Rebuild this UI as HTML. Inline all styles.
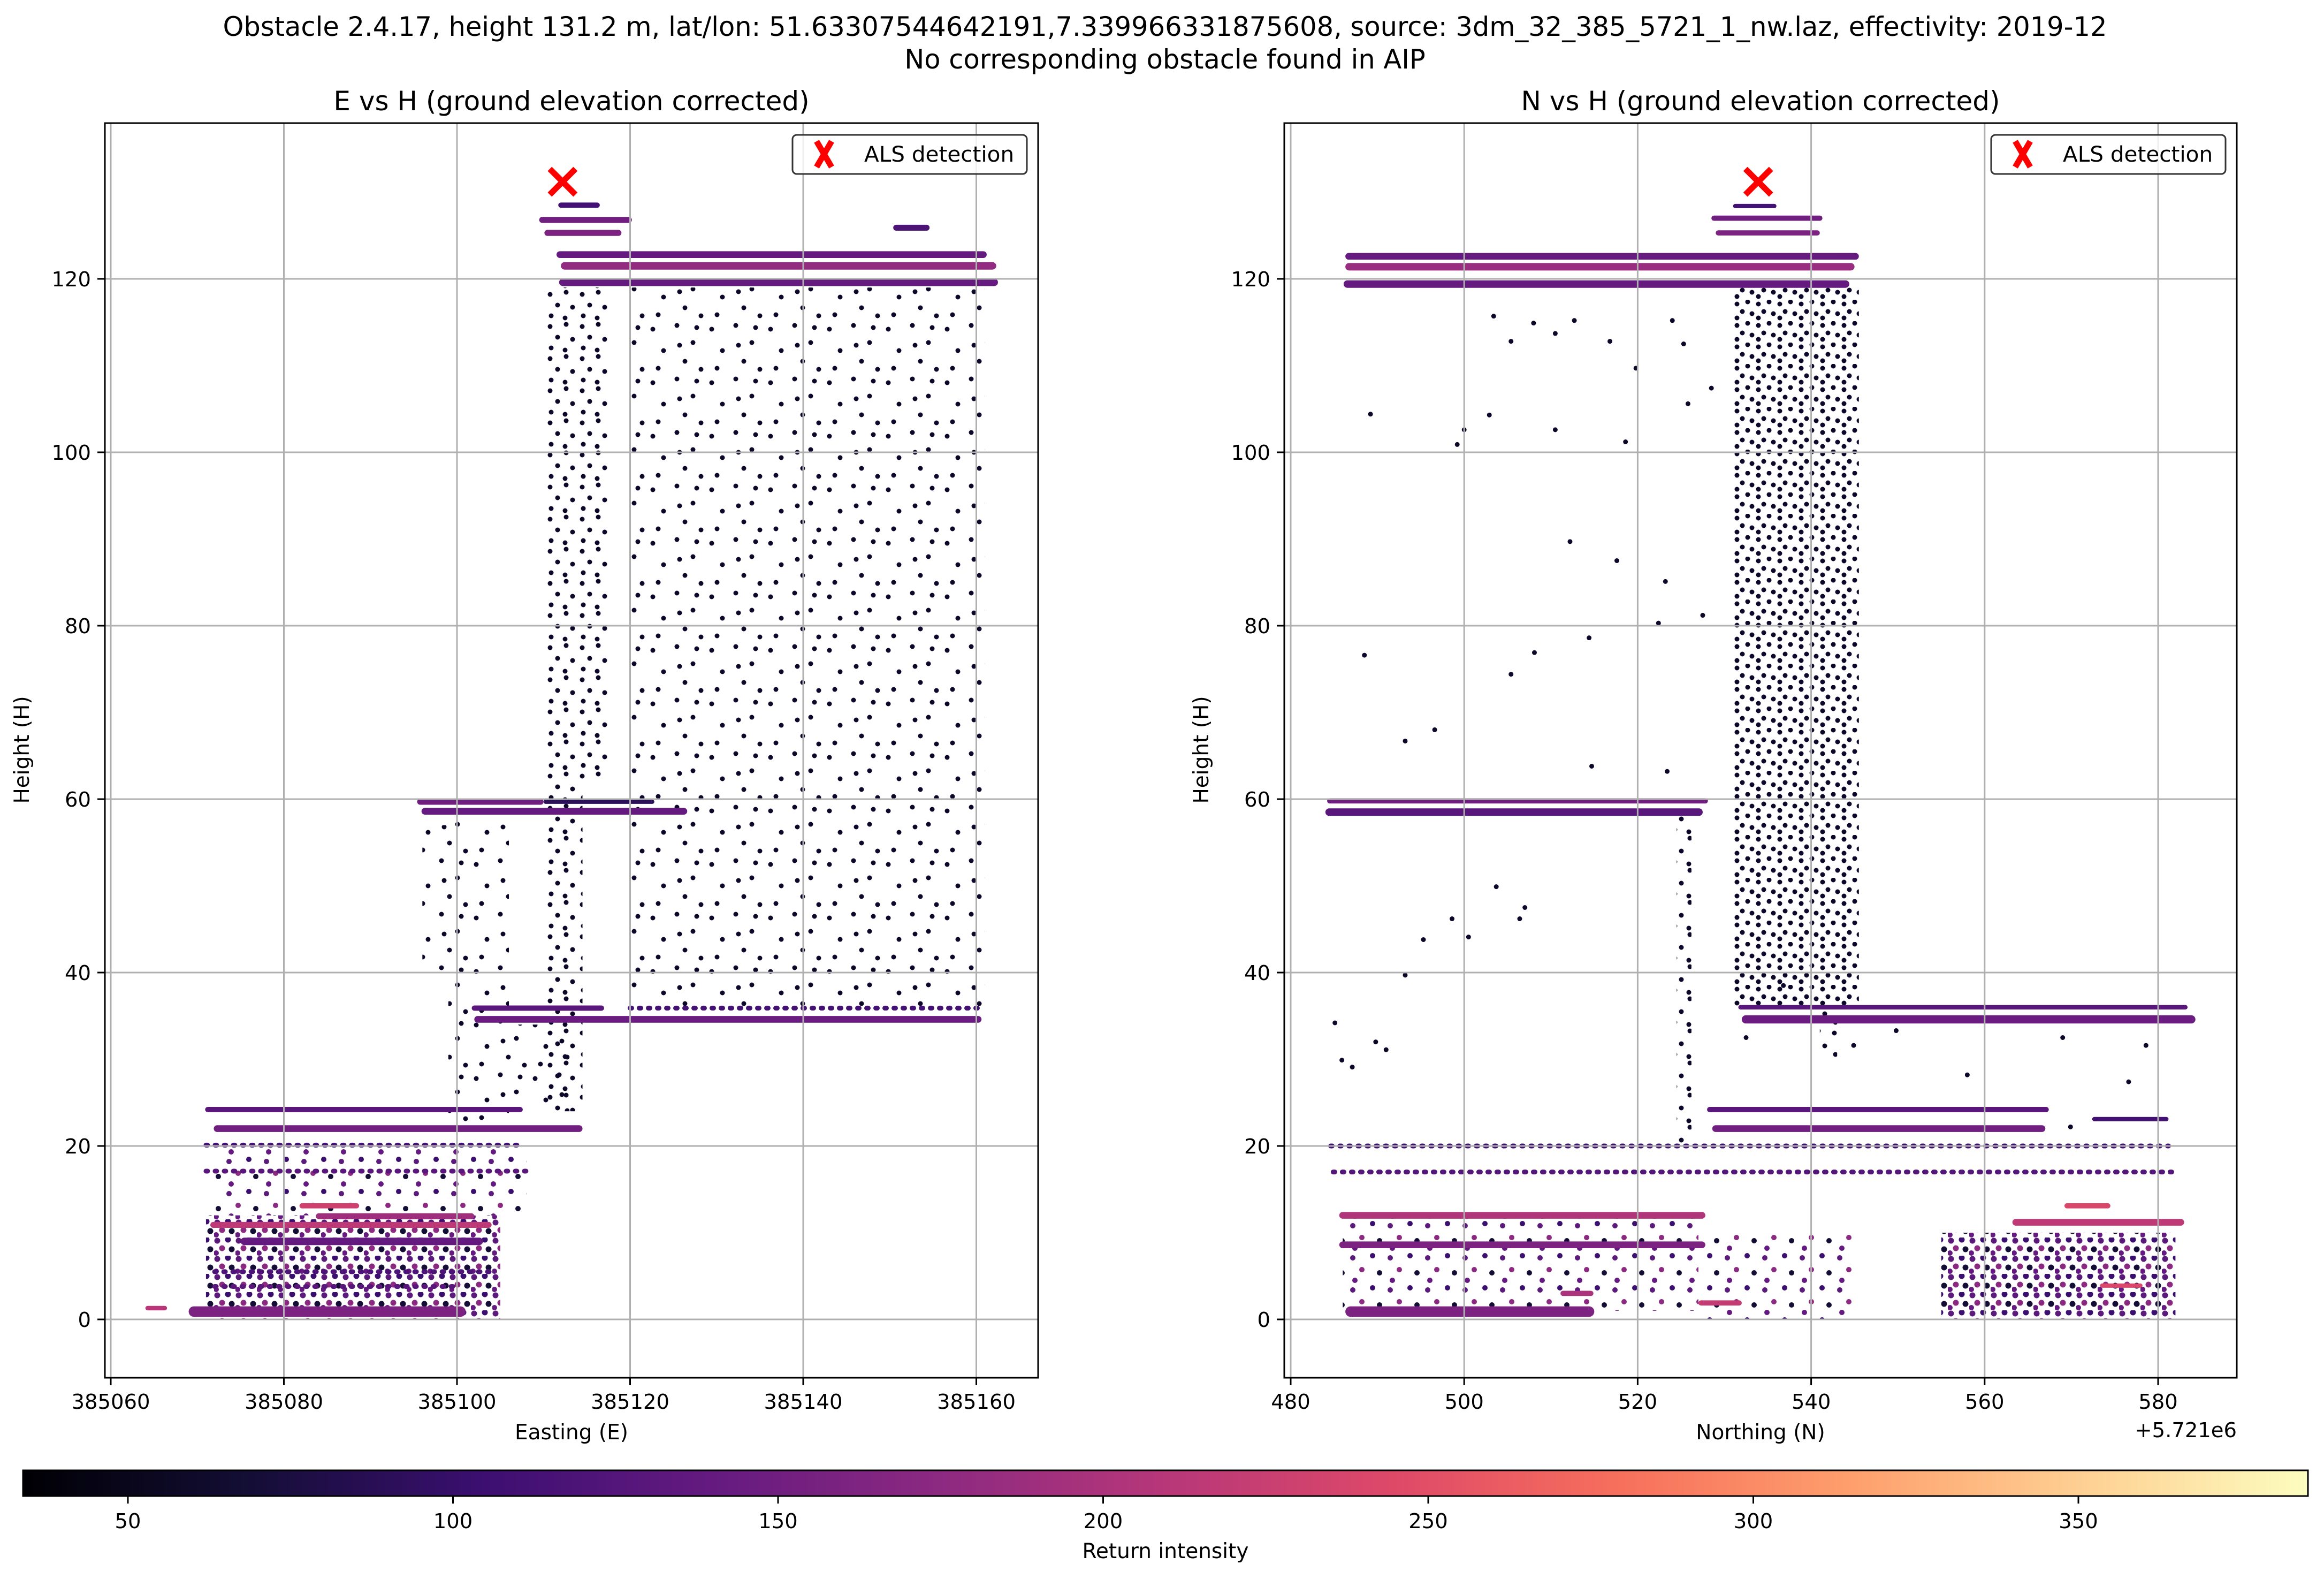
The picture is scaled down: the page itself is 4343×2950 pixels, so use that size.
<!DOCTYPE html>
<html><head><meta charset="utf-8"><style>
html,body{margin:0;padding:0;background:#fff}
svg{display:block;font-family:"DejaVu Sans","Liberation Sans",sans-serif}
</style></head>
<body>
<svg id="fig" xmlns="http://www.w3.org/2000/svg" width="4343" height="2950" viewBox="0 0 4343 2950">
<defs>
<linearGradient id="magma" x1="0" x2="1" y1="0" y2="0">
<stop offset="0" stop-color="#000004"/><stop offset="0.1" stop-color="#140e36"/><stop offset="0.2" stop-color="#3b0f70"/><stop offset="0.3" stop-color="#641a80"/><stop offset="0.4" stop-color="#8c2981"/><stop offset="0.5" stop-color="#b73779"/><stop offset="0.6" stop-color="#de4968"/><stop offset="0.7" stop-color="#f7705c"/><stop offset="0.8" stop-color="#fe9f6d"/><stop offset="0.9" stop-color="#fecf92"/><stop offset="1" stop-color="#fcfdbf"/>
</linearGradient>
<pattern id="pSparse" patternUnits="userSpaceOnUse" width="110" height="100">
<circle cx="10" cy="15" r="4.5" fill="#0d0829"/><circle cx="55" cy="8" r="4.5" fill="#0d0829"/><circle cx="85" cy="40" r="4.5" fill="#0d0829"/><circle cx="30" cy="55" r="4.5" fill="#0d0829"/><circle cx="70" cy="75" r="4.5" fill="#0d0829"/><circle cx="100" cy="90" r="4.5" fill="#0d0829"/><circle cx="20" cy="88" r="4.5" fill="#0d0829"/><circle cx="60" cy="45" r="4.5" fill="#0d0829"/><circle cx="92" cy="12" r="4.5" fill="#0d0829"/>
</pattern>
<pattern id="pMid" patternUnits="userSpaceOnUse" width="60" height="60">
<circle cx="8" cy="10" r="4.5" fill="#0d0829"/><circle cx="38" cy="6" r="4.5" fill="#0d0829"/><circle cx="22" cy="30" r="4.5" fill="#0d0829"/><circle cx="50" cy="34" r="4.5" fill="#0d0829"/><circle cx="10" cy="50" r="4.5" fill="#0d0829"/><circle cx="36" cy="54" r="4.5" fill="#0d0829"/>
</pattern>
<pattern id="pDense" patternUnits="userSpaceOnUse" width="40" height="40">
<circle cx="6" cy="8" r="4.5" fill="#0d0829"/><circle cx="26" cy="4" r="4.5" fill="#0d0829"/><circle cx="16" cy="22" r="4.5" fill="#0d0829"/><circle cx="34" cy="26" r="4.5" fill="#0d0829"/><circle cx="6" cy="34" r="4.5" fill="#0d0829"/>
</pattern>
<pattern id="pCluster" patternUnits="userSpaceOnUse" width="40" height="34">
<circle cx="6" cy="6" r="5.5" fill="#5c1a7d"/><circle cx="26" cy="4" r="5.5" fill="#3b0f70"/><circle cx="15" cy="20" r="5.5" fill="#8c2981"/><circle cx="33" cy="22" r="5.5" fill="#140e36"/><circle cx="4" cy="29" r="5" fill="#641a80"/>
</pattern>
<pattern id="pSparseP" patternUnits="userSpaceOnUse" width="70" height="60">
<circle cx="8" cy="10" r="5" fill="#5c1a7d"/><circle cx="45" cy="6" r="5" fill="#3b0f70"/><circle cx="25" cy="32" r="5" fill="#8c2981"/><circle cx="58" cy="38" r="5" fill="#140e36"/><circle cx="12" cy="52" r="5" fill="#641a80"/>
</pattern>
<clipPath id="clipL"><rect x="196" y="230" width="1744" height="2344"/></clipPath>
<clipPath id="clipR"><rect x="2400" y="230" width="1780" height="2344"/></clipPath>
</defs>
<text x="2177" y="67" text-anchor="middle" font-size="49.5">Obstacle 2.4.17, height 131.2 m, lat/lon: 51.63307544642191,7.339966331875608, source: 3dm_32_385_5721_1_nw.laz, effectivity: 2019-12</text>
<text x="2177" y="128" text-anchor="middle" font-size="49.5">No corresponding obstacle found in AIP</text>
<g id="plots"></g>
</svg>
<script>
// ---- data ----
const yTicks = [0, 20, 40, 60, 80, 100, 120];
const leftXTicks = [385060, 385080, 385100, 385120, 385140, 385160];
const rightXTicks = [480, 500, 520, 540, 560, 580];
const cbTicks = [50, 100, 150, 200, 250, 300, 350];
const detectionHeight = 131.2;
const detectionE = 385112.2;
const detectionN = 533.9;
// bands: [x0, x1, height, thickness(m), intensity]
const leftBands = [
 [385095.4,385110,59.7,0.8,150],[385110,385122.8,59.7,0.5,90],[385095.9,385126.6,58.6,0.9,140],
 [385101.7,385117,35.9,0.7,130],[385102,385160.6,34.6,0.9,145],
 [385070.9,385107.6,24.2,0.7,130],[385071.9,385114.5,22.0,0.9,150],
 [385081.8,385088.7,13.1,0.7,230],[385083.7,385102,11.9,0.8,190],[385071.5,385104,10.9,0.8,215],
 [385075,385103,9.0,1.0,140],[385069,385101,0.9,1.4,160],[385064,385066.5,1.3,0.6,210],
 [385109.5,385120.2,126.8,0.8,150],[385110.1,385119,125.3,0.8,160],[385111.7,385116.5,128.5,0.7,110],
 [385111.5,385161.2,122.8,0.9,140],[385112,385162.3,121.5,1.0,180],[385111.8,385162.5,119.6,1.0,140],
 [385150.4,385154.6,125.9,0.8,120]
];
const leftDotBands = [
 [385120,385160.7,35.9,110],[385071,385107.3,20.1,110],[385071,385108.6,17.1,130],
 [385072,385104,5.5,120],[385072,385100,3.8,130]
];
const rightBands = [
 [486.3,545.5,122.6,0.9,140],[486.3,545,121.4,1.0,185],[486.1,544.4,119.4,1.0,140],
 [528.5,541.3,127.0,0.7,150],[529,541,125.3,0.7,160],[531,536,128.4,0.5,110],
 [484.2,528.1,59.8,0.7,150],[484,527.5,58.5,1.0,130],
 [531.6,583.4,36.0,0.6,130],[532,584.3,34.6,1.1,145],
 [528,567.4,24.2,0.7,130],[528.6,567,22.0,0.9,150],[572.4,581.2,23.1,0.5,110],
 [485.6,527.8,12.0,0.9,205],[485.6,527.8,8.6,0.9,160],[563.2,583,11.2,0.9,215],
 [569.2,574.5,13.1,0.7,240],[573.3,578.2,3.9,0.5,240],[486.3,515,0.9,1.4,160],
 [511.1,514.9,3.0,0.7,200],[527,532,1.9,0.7,220]
];
const rightDotBands = [
 [484.6,581.2,20.0,110],[484.9,582.4,17.0,125]
];
// sparse point-cloud regions: [x0, x1, h0, h1, pattern]
const leftRegions = [
 [385110,385117.5,62,119,'pMid'],[385110,385114.5,24,62,'pMid'],[385120,385161,36,119,'pSparse'],
 [385099,385106,22,58,'pSparse'],[385096,385099,40,57,'pSparse'],[385106,385113,24,34,'pSparse'],
 [385071,385105,0,12,'pCluster'],[385072,385108,12,20,'pSparseP']
];
const rightRegions = [
 [531,545.5,36,119,'pDense'],[524.5,526.2,20,58,'pMid'],[541,543,30,36,'pMid'],
 [528,545,0,10,'pSparseP'],[555,582,0,10,'pCluster'],[486,527,1,12,'pSparseP']
];
// isolated returns in N vs H: [N, H]
const rightOutliers = [
 [489.2,104.4],[499.2,100.9],[503.4,115.7],[505.4,112.8],[508,114.9],[510.5,113.7],[512.7,115.2],
 [516.8,112.8],[519.8,109.7],[524,115.2],[525.3,112.5],[525.8,105.6],[528.5,107.4],[518.6,101.2],
 [512.2,89.7],[510.5,102.6],[500,102.6],[502.9,104.3],[523.2,85.1],[527.5,81.2],[522.4,80.3],
 [517.6,87.5],[514.4,78.6],[508.1,76.9],[505.4,74.4],[496.6,68],[493.2,66.7],[488.5,76.6],
 [514.7,63.8],[523.4,63.2],[503.7,49.9],[498.6,46.2],[495.3,43.8],[500.5,44.1],[506.4,46.2],
 [507,47.5],[493.2,39.7],[485.1,34.2],[485.9,29.9],[487.1,29.1],[489.8,32],[491,31.1],
 [532.5,32.5],[536.8,38.5],[544.9,31.6],[549.8,33.3],[558,28.2],[569,32.5],[569.9,22.2],
 [578.6,31.6],[576.6,27.4]
];

// ---- scales ----
const NS = 'http://www.w3.org/2000/svg';
const cbMin = 33.9, cbMax = 385.3;
const magmaStops = ['#000004','#140e36','#3b0f70','#641a80','#8c2981','#b73779','#de4968','#f7705c','#fe9f6d','#fecf92','#fcfdbf'];
function hex(c){return [parseInt(c.slice(1,3),16),parseInt(c.slice(3,5),16),parseInt(c.slice(5,7),16)];}
function magma(v){
  let t=Math.max(0,Math.min(1,(v-cbMin)/(cbMax-cbMin)))*10;
  let i=Math.min(9,Math.floor(t)), f=t-i;
  let a=hex(magmaStops[i]), b=hex(magmaStops[i+1]);
  return 'rgb('+a.map((x,k)=>Math.round(x+(b[k]-x)*f)).join(',')+')';
}
const hy = h => 2465 - h*16.2;
const exL = e => 207 + (e-385060)*16.175;
const nxR = n => 2412 + (n-480)*16.21;
const cbx = v => 239 + (v-50)*12.15;

function mk(tag, attrs, parent){
  const el=document.createElementNS(NS,tag);
  for(const k in attrs) el.setAttribute(k,attrs[k]);
  parent.appendChild(el); return el;
}
const root=document.getElementById('plots');

function drawAxes(cfg){
  const g=mk('g',{},root);
  
  
  const data=mk('g',{'clip-path':'url(#'+cfg.clip+')'},g);
  
  
  cfg.regions.forEach(r=>{
    const x0=cfg.sx(r[0]), x1=cfg.sx(r[1]);
    const el=mk('rect',{x:x0,y:hy(r[3]),width:x1-x0,height:hy(r[2])-hy(r[3]),fill:'url(#'+r[4]+')'},data);
    
    
  });
  cfg.dots.forEach(b=>{
    const el=mk('line',{x1:cfg.sx(b[0]),x2:cfg.sx(b[1]),y1:hy(b[2]),y2:hy(b[2]),stroke:magma(b[3]),'stroke-width':9,'stroke-linecap':'round','stroke-dasharray':'3 14'},data);
    
    
  });
  cfg.bands.forEach(b=>{
    const x0=cfg.sx(b[0]), x1=cfg.sx(b[1]), th=Math.max(8,b[3]*14);
    const el=mk('rect',{x:x0,y:hy(b[2])-th/2,width:x1-x0,height:th,rx:th/2,fill:magma(b[4])},data);
    
    
  });
  (cfg.points||[]).forEach(p=>{
    const el=mk('circle',{cx:cfg.sx(p[0]),cy:hy(p[1]),r:4.5,fill:'#0d0829'},data);
    
    
  });
  const grid=mk('g',{stroke:'#b0b0b0','stroke-width':3},g);
  
  
  cfg.xticks.forEach(t=>mk('line',{x1:cfg.sx(t),x2:cfg.sx(t),y1:cfg.top,y2:cfg.bottom},grid));
  yTicks.forEach(t=>mk('line',{x1:cfg.left,x2:cfg.right,y1:hy(t),y2:hy(t)},grid));
  const mx=cfg.sx(cfg.det), my=hy(detectionHeight), s=24;
  const mark=mk('path',{d:`M${mx-s} ${my-s}L${mx+s} ${my+s}M${mx+s} ${my-s}L${mx-s} ${my+s}`,stroke:'#ff0000','stroke-width':11},g);
  
  
  const frame=mk('rect',{x:cfg.left,y:cfg.top,width:cfg.right-cfg.left,height:cfg.bottom-cfg.top,fill:'none',stroke:'#000','stroke-width':3},g);
  
  
  cfg.xticks.forEach(t=>{
    const x=cfg.sx(t);
    mk('line',{x1:x,x2:x,y1:cfg.bottom,y2:cfg.bottom+14,stroke:'#000','stroke-width':3},g);
    const tx=mk('text',{x:x,y:cfg.bottom+58,'text-anchor':'middle','font-size':38.5},g);
    tx.textContent=t;
    
    
  });
  yTicks.forEach(t=>{
    const y=hy(t);
    mk('line',{x1:cfg.left-14,x2:cfg.left,y1:y,y2:y,stroke:'#000','stroke-width':3},g);
    const tx=mk('text',{x:cfg.left-26,y:y+14,'text-anchor':'end','font-size':38.5},g);
    tx.textContent=t;
    
    
  });
  const xl=mk('text',{x:(cfg.left+cfg.right)/2,y:2689,'text-anchor':'middle','font-size':39},g);
  xl.textContent=cfg.xlabel;
  
  
  const yl=mk('text',{x:0,y:0,'text-anchor':'middle','font-size':39,transform:`translate(${cfg.left-142},1401) rotate(-90)`},g);
  yl.textContent='Height (H)';
  
  
  const ti=mk('text',{x:(cfg.left+cfg.right)/2,y:206,'text-anchor':'middle','font-size':50},g);
  ti.textContent=cfg.title;
  
  
  const lg=mk('g',{},g);
  
  
  const lx=cfg.right-459;
  mk('rect',{x:lx,y:252,width:438,height:73,rx:8,fill:'#fff','fill-opacity':0.8,stroke:'#333','stroke-width':3},lg);
  mk('path',{d:`M${lx+45} 264L${lx+73} 312M${lx+73} 264L${lx+45} 312`,stroke:'#ff0000','stroke-width':11},lg);
  const lt=mk('text',{x:lx+134,y:302,'font-size':40.5},lg);
  lt.textContent='ALS detection';
  
  
  if(cfg.offset){
    const o=mk('text',{x:cfg.right,y:2685,'text-anchor':'end','font-size':38.5},g);
    o.textContent=cfg.offset;
    
    
  }
}
drawAxes({name:'e-vs-h-plot',clip:'clipL',left:196,right:1940,top:230,bottom:2574,sx:exL,xticks:leftXTicks,
  bands:leftBands,dots:leftDotBands,regions:leftRegions,det:detectionE,xlabel:'Easting (E)',title:'E vs H (ground elevation corrected)'});
drawAxes({name:'n-vs-h-plot',clip:'clipR',left:2400,right:4180,top:230,bottom:2574,sx:nxR,xticks:rightXTicks,
  bands:rightBands,dots:rightDotBands,regions:rightRegions,points:rightOutliers,det:detectionN,xlabel:'Northing (N)',title:'N vs H (ground elevation corrected)',offset:'+5.721e6'});

const cb=mk('g',{},root);


mk('rect',{x:43,y:2747,width:4270,height:48,fill:'url(#magma)',stroke:'#000','stroke-width':3},cb);
cbTicks.forEach(t=>{
  const x=cbx(t);
  mk('line',{x1:x,x2:x,y1:2795,y2:2809,stroke:'#000','stroke-width':3},cb);
  const tx=mk('text',{x:x,y:2855,'text-anchor':'middle','font-size':38.5},cb);
  tx.textContent=t;
  
  
});
const cl=mk('text',{x:2178,y:2911,'text-anchor':'middle','font-size':39},cb);
cl.textContent='Return intensity';


</script>
</body></html>
